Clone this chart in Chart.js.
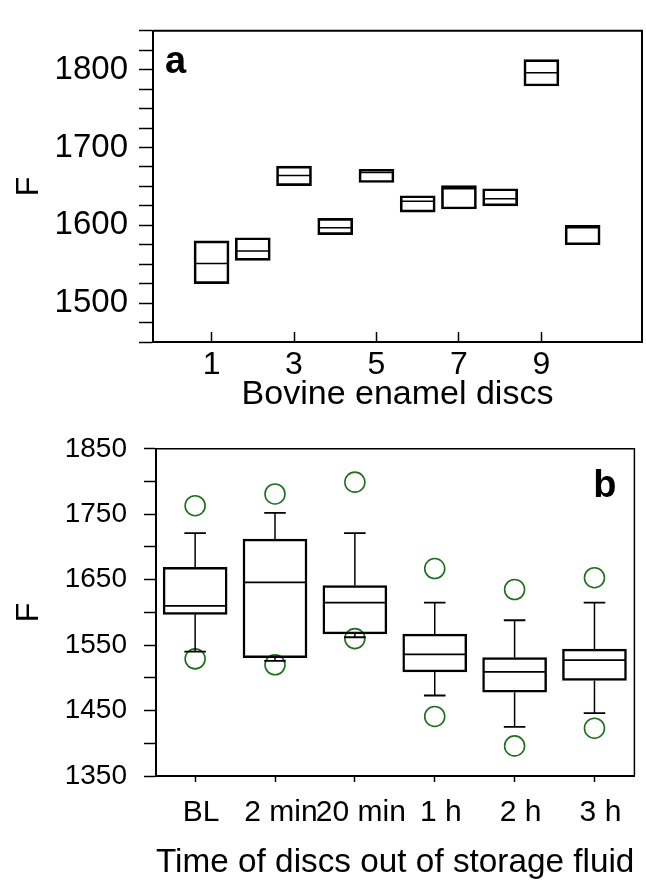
<!DOCTYPE html>
<html>
<head>
<meta charset="utf-8">
<script src="https://cdn.jsdelivr.net/npm/chart.js@4.4.1/dist/chart.umd.min.js"></script>
<style>
  html, body { margin: 0; padding: 0; background: #fff; }
  #wrap { position: relative; width: 646px; height: 883px; }
  #chartA { position: absolute; left: 0; top: 0; }
  #chartB { position: absolute; left: 0; top: 415px; }
</style>
</head>
<body>
<div id="wrap">
  <canvas id="chartA" width="646" height="415"></canvas>
  <canvas id="chartB" width="646" height="468"></canvas>
</div>
<script>
// panel a - F of each bovine enamel disc (box = range, line = median)
const discs = [1, 2, 3, 4, 5, 6, 7, 8, 9, 10];
const discTicks = [1, 3, 5, 7, 9];
const discLow = [1525, 1555, 1651, 1588, 1655, 1617, 1621, 1625, 1779, 1575];
const discMedian = [1551, 1567, 1664, 1597, 1668, 1631, 1647, 1634, 1796, 1597];
const discHigh = [1580, 1584, 1676, 1609, 1672, 1638, 1651, 1647, 1813, 1600];

// panel b - F against time out of storage fluid
const times = ['BL', '2 min', '20 min', '1 h', '2 h', '3 h'];
const whiskerLow = [1540, 1526, 1562, 1473, 1425, 1446];
const q1 = [1597, 1531, 1567, 1509, 1478, 1496];
const median = [1610, 1646, 1615, 1536, 1509, 1527];
const q3 = [1669, 1712, 1641, 1567, 1531, 1544];
const whiskerHigh = [1721, 1752, 1721, 1615, 1588, 1615];
const outlierHigh = [1763, 1781, 1799, 1667, 1635, 1653];
const outlierLow = [1529, 1520, 1560, 1441, 1396, 1423];

const FONT = '"Liberation Sans", Arial, Helvetica, sans-serif';
const GREEN = '#1f6e1f';

// horizontal segments (medians, caps); y:null breaks the line
function hSegments(xs, ys, half) {
    const pts = [];
    xs.forEach((x, i) => {
        pts.push({x: x - half, y: ys[i]}, {x: x + half, y: ys[i]}, {x: x, y: null});
    });
    return pts;
}
// vertical segments (whiskers)
function vSegments(xs, from, to) {
    const pts = [];
    xs.forEach((x, i) => {
        pts.push({x: x, y: from[i]}, {x: x, y: to[i]}, {x: x, y: null});
    });
    return pts;
}

function lineSet(data, width) {
    return {
        type: 'line', data: data, borderColor: '#000', borderWidth: width,
        pointRadius: 0, spanGaps: false, tension: 0, fill: false
    };
}

// top/right frame and the panel letter
const frame = {
    id: 'frame',
    afterDraw(chart, args, opts) {
        const {ctx, chartArea: a} = chart;
        ctx.save();
        ctx.strokeStyle = '#000';
        ctx.lineWidth = opts.width;
        ctx.beginPath();
        ctx.moveTo(a.left, a.top);
        ctx.lineTo(a.right, a.top);
        ctx.lineTo(a.right, a.bottom);
        ctx.stroke();
        ctx.fillStyle = '#000';
        ctx.font = 'bold 38px ' + FONT;
        ctx.textAlign = opts.align;
        ctx.textBaseline = 'alphabetic';
        const x = opts.align === 'left' ? a.left + opts.dx : a.right - opts.dx;
        ctx.fillText(opts.letter, x, a.top + opts.dy);
        ctx.restore();
    }
};

function yAxis(min, max, step, width, size, tick, pad, label) {
    return {
        type: 'linear', min: min, max: max,
        afterFit: s => { s.width = width; },
        // every minor step gets a tick mark, labels come from the callback
        afterBuildTicks: s => {
            const t = [];
            for (let v = min; v <= max; v += step) t.push({value: v});
            s.ticks = t;
        },
        border: {color: '#000', width: 2},
        grid: {drawOnChartArea: false, color: '#000', tickColor: '#000', tickLength: tick, tickWidth: 1.5},
        ticks: {autoSkip: false, padding: pad, color: '#000',
            font: {family: FONT, size: size}, callback: label},
        title: {display: true, text: 'F', color: '#000', font: {family: FONT, size: 32}, padding: {top: 10, bottom: 0}}
    };
}

function xAxis(min, max, height, ticks, tick, pad, size, shift, label, title) {
    return {
        type: 'linear', min: min, max: max, offset: false,
        afterFit: s => { s.height = height; },
        afterBuildTicks: s => { s.ticks = ticks.map(v => ({value: v})); },
        border: {color: '#000', width: 2},
        grid: {offset: false, drawOnChartArea: false, color: '#000', tickColor: '#000', tickLength: tick, tickWidth: 1.5},
        ticks: {autoSkip: false, maxRotation: 0, padding: pad, labelOffset: shift, color: '#000',
            font: {family: FONT, size: size}, callback: label},
        title: {display: true, text: title, color: '#000', font: {family: FONT, size: 34}, padding: 0}
    };
}

// ---- panel a
new Chart(document.getElementById('chartA'), {
    type: 'bar',
    data: {
        datasets: [
            {
                type: 'bar',
                data: discs.map((d, i) => ({x: d, y: [discLow[i], discHigh[i]]})),
                backgroundColor: 'rgba(0,0,0,0)', borderColor: '#000', borderWidth: 2,
                borderSkipped: false, barThickness: 35
            },
            lineSet(hSegments(discs, discMedian, 0.41), 1.5)
        ]
    },
    options: {
        responsive: false, animation: false,
        layout: {padding: {top: 13, right: 4, bottom: 0, left: 0}},
        plugins: {legend: {display: false}, tooltip: {enabled: false},
            frame: {width: 2, letter: 'a', align: 'left', dx: 12, dy: 42}},
        scales: {
            x: xAxis(-0.42, 11.44, 73, discTicks, -10, 14, 32, 0, v => String(v), 'Bovine enamel discs'),
            y: yAxis(1450, 1850, 25, 153, 33, 14, 11, v => (v % 100 === 0 ? String(v) : ''))
        }
    },
    plugins: [frame]
});

// ---- panel b
const idx = times.map((t, i) => i);
new Chart(document.getElementById('chartB'), {
    type: 'bar',
    data: {
        datasets: [
            {
                type: 'bar',
                data: idx.map(i => ({x: i, y: [q1[i], q3[i]]})),
                backgroundColor: 'rgba(0,0,0,0)', borderColor: '#000', borderWidth: 1.8,
                borderSkipped: false, barThickness: 64
            },
            lineSet(hSegments(idx, median, 0.385), 1.8),
            lineSet(vSegments(idx, q3, whiskerHigh), 1.5),
            lineSet(vSegments(idx, q1, whiskerLow), 1.5),
            lineSet(hSegments(idx, whiskerHigh, 0.135), 1.8),
            lineSet(hSegments(idx, whiskerLow, 0.135), 1.8),
            {
                type: 'scatter',
                data: idx.map(i => ({x: i, y: outlierHigh[i]})).concat(idx.map(i => ({x: i, y: outlierLow[i]}))),
                pointStyle: 'circle', pointRadius: 10, borderWidth: 1.6,
                borderColor: GREEN, backgroundColor: 'rgba(0,0,0,0)'
            }
        ]
    },
    options: {
        responsive: false, animation: false,
        layout: {padding: {top: 30, right: 2, bottom: 0, left: 0}},
        plugins: {legend: {display: false}, tooltip: {enabled: false},
            frame: {width: 1.5, letter: 'b', align: 'right', dx: 18, dy: 48}},
        scales: {
            x: xAxis(-0.49, 5.5, 107, idx, 6, 13, 30, 6, v => times[v], 'Time of discs out of storage fluid'),
            y: yAxis(1350, 1850, 50, 156, 28, 12, 17, v => ((v - 1350) % 100 === 0 ? String(v) : ''))
        }
    },
    plugins: [frame]
});
</script>
</body>
</html>
